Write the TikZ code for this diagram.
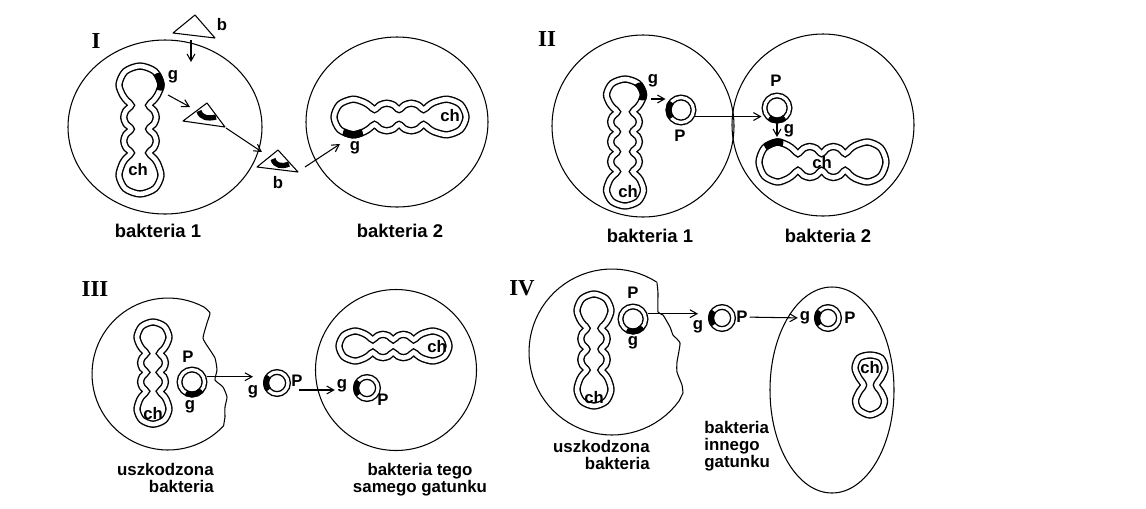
\documentclass[tikz,border=0pt]{standalone}
\usepackage{fontspec}
\setmainfont{Liberation Sans}
\newfontfamily\romanfont{Liberation Serif}
\usetikzlibrary{arrows.meta}

\tikzset{
    cell/.style={line width=0.6pt},
    chromo/.style={line width=0.8pt, double=white, double distance=2.6pt},
    gene/.style={line width=4.2pt},
    plasmid/.style={circle, draw, line width=0.8pt, double=white, double distance=1.8pt, minimum size=0.5cm, inner sep=0pt, outer sep=1.7pt},
    small plasmid/.style={plasmid, minimum size=0.44cm},
    genering/.style={line width=3.4pt},
    genebit/.style={line width=3pt},
    lab/.style={font=\fontsize{9.5}{11}\selectfont\bfseries, inner sep=1pt},
    caption/.style={font=\fontsize{10.5}{12}\selectfont\bfseries, inner sep=0pt},
    note/.style={font=\fontsize{9.6}{9.6}\selectfont\bfseries, inner sep=0pt},
    roman/.style={font=\romanfont\fontsize{13}{15}\selectfont\bfseries, inner sep=0pt},
    arr/.style={line width=0.6pt, -{Straight Barb[length=4pt,width=4.5pt]}}
}

\def\chromshort{plot[smooth cycle] coordinates {(0,0) (5.9,-14.1) (20,-20) (32,-16.5) (38,-12.5) (43,-8.5) (49,-13.5) (56,-15.5) (63,-13.5) (69,-8.5) (75,-13.5) (82,-15.5) (89,-13.5) (95,-8.5) (100,-12.5) (106,-16.5) (120,-20) (134.1,-14.1) (140,0) (134.1,14.1) (120,20) (106,16.5) (100,12.5) (95,8.5) (89,13.5) (82,15.5) (75,13.5) (69,8.5) (63,13.5) (56,15.5) (49,13.5) (43,8.5) (38,12.5) (32,16.5) (20,20) (5.9,14.1)}}
\def\chromlong{plot[smooth cycle] coordinates {(0,0) (5.9,-14.1) (20,-20) (32,-16.5) (38,-12.5) (43,-8.5) (49,-13.5) (56,-15.5) (63,-13.5) (69,-8.5) (75,-13.5) (82,-15.5) (89,-13.5) (95,-8.5) (101,-13.5) (108,-15.5) (115,-13.5) (121,-8.5) (126,-12.5) (132,-16.5) (146,-20) (160.1,-14.1) (166,0) (160.1,14.1) (146,20) (132,16.5) (126,12.5) (121,8.5) (115,13.5) (108,15.5) (101,13.5) (95,8.5) (89,13.5) (82,15.5) (75,13.5) (69,8.5) (63,13.5) (56,15.5) (49,13.5) (43,8.5) (38,12.5) (32,16.5) (20,20) (5.9,14.1)}}

\begin{document}
\begin{tikzpicture}[x=0.02cm, y=-0.02cm]
    \path [fill=white] (0,0) rectangle (1146,508);

    \node [roman] (numI) at (96,41) {I};
    \draw [cell] (165,127) ellipse [x radius=97, y radius=87];
    \draw [cell] (397,122) ellipse [x radius=91, y radius=85];
    \begin{scope}[shift={(140,66)}, rotate=-90, xscale=0.914, yscale=1.05]
        \draw [chromo] \chromshort;
        \clip (17,-20) circle (10);
        \draw [gene] \chromshort;
    \end{scope}
    \begin{scope}[shift={(334,117)}, xscale=0.943, yscale=0.89]
        \draw [chromo] \chromshort;
        \clip (20,20) circle (11);
        \draw [gene] \chromshort;
    \end{scope}
    \node [lab] (gIa) at (173,77) {g};
    \node [lab] (chIa) at (138,170) {ch};
    \node [lab] (gIb) at (355,148) {g};
    \node [lab] (chIb) at (450,116) {ch};
    \draw [cell, line join=round] (173,33) -- (195,15) -- (215,38) -- cycle;
    \node [lab] (bIa) at (222,25) {b};
    \draw [cell, line join=round] (183,121) -- (207,103) -- (225,127) -- cycle;
    \draw [genebit] (199,111) .. controls (201,118) and (208,119) .. (216,117);
    \draw [cell, line join=round] (257,167) -- (278,150) -- (298,172) -- cycle;
    \draw [genebit] (273,159) .. controls (275,166) and (282,167) .. (289,164);
    \node [lab] (bIb) at (278,183) {b};
    \coordinate (phageIn) at (191,40);
    \coordinate (phageCell) at (191,62);
    \coordinate (geneOut) at (168,95);
    \coordinate (phageCatch) at (190,107);
    \coordinate (phageLeave) at (226,128);
    \coordinate (phageFree) at (262,152);
    \coordinate (phageOut) at (305,167);
    \coordinate (geneIn) at (340,144);
    \draw [arr] (phageIn) -- (phageCell);
    \draw [arr] (geneOut) -- (phageCatch);
    \draw [arr] (phageLeave) -- (phageFree);
    \draw [arr] (phageOut) -- (geneIn);
    \node [caption, anchor=base] (capIa) at (158,237) {bakteria 1};
    \node [caption, anchor=base] (capIb) at (400,237) {bakteria 2};

    \node [roman] (numII) at (547,39) {II};
    \draw [cell] (643,126) circle [radius=91];
    \draw [cell] (823,125) circle [radius=91];
    \begin{scope}[shift={(625,79)}, rotate=-90, xscale=0.765, yscale=0.925]
        \draw [chromo] \chromlong;
        \clip (16,-19) circle (12);
        \draw [gene] \chromlong;
    \end{scope}
    \begin{scope}[shift={(759,162)}, xscale=0.907]
        \draw [chromo] \chromshort;
        \clip (16,-20) circle (11);
        \draw [gene] \chromshort;
    \end{scope}
    \node [plasmid] (pIIa) at (681,110) {};
    \begin{scope}
        \clip (pIIa.west) circle (10);
        \draw [genering] (pIIa.center) circle (0.25cm);
    \end{scope}
    \node [plasmid] (pIIb) at (777,108) {};
    \begin{scope}
        \clip (pIIb.south) circle (10);
        \draw [genering] (pIIb.center) circle (0.25cm);
    \end{scope}
    \node [lab] (gIIa) at (653,81) {g};
    \node [lab] (PIIa) at (680,136) {P};
    \node [lab] (PIIb) at (776,81) {P};
    \node [lab] (gIIb) at (789,131) {g};
    \node [lab] (chIIa) at (628,192) {ch};
    \node [lab] (chIIb) at (822,163) {ch};
    \coordinate (geneIIa) at (651,99);
    \coordinate (geneIIb) at (777,137);
    \draw [arr] (geneIIa) -- (geneIIa -| pIIa.west);
    \draw [arr] (pIIa.-25) -- (pIIa.-25 -| pIIb.west);
    \draw [arr] (pIIb.south) -- (geneIIb);
    \node [caption, anchor=base] (capIIa) at (650,242) {bakteria 1};
    \node [caption, anchor=base] (capIIb) at (828,242) {bakteria 2};

    \node [roman] (numIII) at (95,289) {III};
    \draw [cell] plot[domain=62:317, samples=60] ({168+76*cos(\x)}, {374-76*sin(\x)}) -- plot[smooth, tension=0.3] coordinates {(225,417) (225,407) (227,397) (223,387) (215,380) (217,370) (215,358) (208,347) (203,338) (207,323) (210,313) (204,307)};
    \begin{scope}[shift={(153,322)}, rotate=-90, xscale=0.73, yscale=0.8]
        \draw [chromo] \chromshort;
    \end{scope}
    \node [lab] (chIIIa) at (153,414) {ch};
    \node [plasmid] (pIIIa) at (192,382) {};
    \begin{scope}
        \clip (pIIIa.-80) circle (10);
        \draw [genering] (pIIIa.center) circle (0.25cm);
    \end{scope}
    \node [lab] (PIIIa) at (188,357) {P};
    \node [lab] (gIIIa) at (190,407) {g};
    \node [small plasmid] (pIIIb) at (277,383) {};
    \begin{scope}
        \clip (pIIIb.west) circle (9);
        \draw [genering] (pIIIb.center) circle (0.22cm);
    \end{scope}
    \node [lab] (gIIIb) at (253,392) {g};
    \node [lab] (PIIIb) at (297,381) {P};
    \draw [arr] (pIIIa.20) -- (pIIIa.20 -| gIIIb);
    \draw [cell] (396,370) circle [radius=80.5];
    \begin{scope}[shift={(339,346)}, xscale=0.786, yscale=0.75]
        \draw [chromo] \chromshort;
    \end{scope}
    \node [lab] (chIIIb) at (437,347) {ch};
    \node [small plasmid] (pIIIc) at (367,388) {};
    \begin{scope}
        \clip (pIIIc.west) circle (9);
        \draw [genering] (pIIIc.center) circle (0.22cm);
    \end{scope}
    \node [lab] (gIIIc) at (342,386) {g};
    \node [lab] (PIIIc) at (383,400) {P};
    \draw [arr, shorten <=0.2cm] (pIIIb.-30) -- (pIIIb.-30 -| gIIIc.west);
    \node [note, align=right, anchor=north east] (capIIIa) at (214,463) {uszkodzona\\bakteria};
    \node [note, align=center, anchor=north] (capIIIb) at (420,463) {bakteria tego\\samego gatunku};

    \node [roman] (numIV) at (522,288) {IV};
    \draw [cell] plot[domain=57:324, samples=60] ({612+83*cos(\x)}, {352-83*sin(\x)}) -- plot[smooth, tension=0.3] coordinates {(683,393) (682,385) (677,372) (677,362) (680,343) (673,335) (670,327) (663,315) (658,312) (658,293) (657,283)};
    \begin{scope}[shift={(594,294)}, rotate=-90, xscale=0.8, yscale=0.85]
        \draw [chromo] \chromshort;
    \end{scope}
    \node [lab] (chIVa) at (594,398) {ch};
    \node [plasmid] (pIVa) at (633,319) {};
    \begin{scope}
        \clip (pIVa.-80) circle (10);
        \draw [genering] (pIVa.center) circle (0.25cm);
    \end{scope}
    \node [lab] (PIVa) at (633,293) {P};
    \node [lab] (gIVa) at (633,343) {g};
    \node [small plasmid] (pIVb) at (722,318) {};
    \begin{scope}
        \clip (pIVb.west) circle (9);
        \draw [genering] (pIVb.center) circle (0.22cm);
    \end{scope}
    \node [lab] (gIVb) at (698,327) {g};
    \node [lab] (PIVb) at (742,317) {P};
    \draw [arr] (pIVa.20) -- (pIVa.20 -| gIVb);
    \draw [cell] (832,390) ellipse [x radius=62, y radius=103];
    \node [small plasmid] (pIVc) at (828,318) {};
    \begin{scope}
        \clip (pIVc.west) circle (9);
        \draw [genering] (pIVc.center) circle (0.22cm);
    \end{scope}
    \node [lab] (gIVc) at (805,318) {g};
    \node [lab] (PIVc) at (850,318) {P};
    \draw [arr] (PIVb) -- (gIVc);
    \draw [chromo] plot[smooth cycle] coordinates {(870,355) (881,358) (885,368) (881,378) (876.5,385) (881,392) (884.5,401) (881,410) (870,415) (859,410) (855.5,401) (859,392) (863.5,385) (859,378) (855,368) (859,358)};
    \node [lab] (chIVb) at (870,368) {ch};
    \node [note, align=right, anchor=north east] (capIVa) at (650,440) {uszkodzona\\bakteria};
    \node [note, align=left, anchor=north west] (capIVb) at (704,421) {bakteria\\innego\\gatunku};
\end{tikzpicture}
\end{document}
